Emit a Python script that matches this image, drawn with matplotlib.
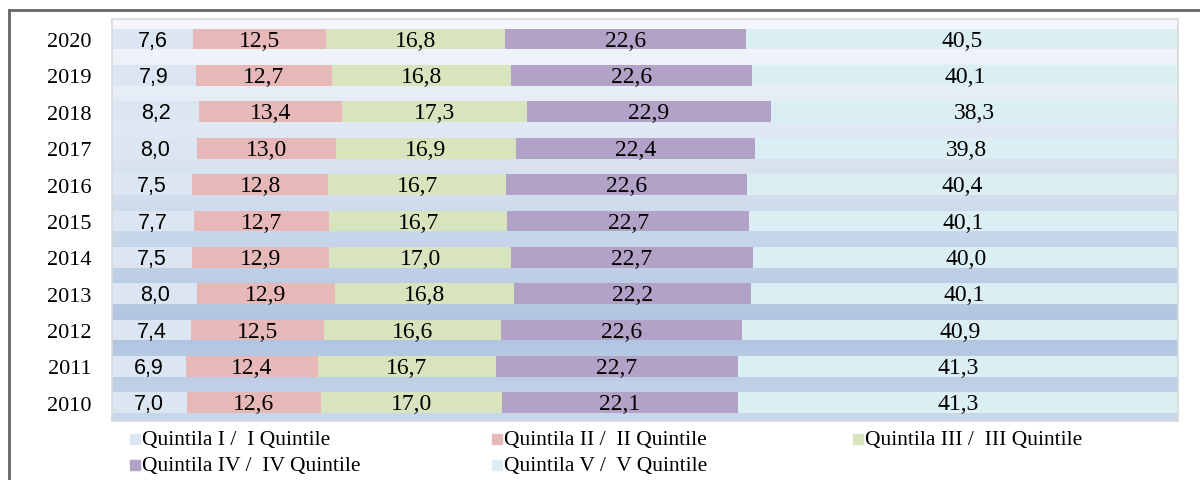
import matplotlib.pyplot as plt
import numpy as np
from matplotlib.colors import LinearSegmentedColormap
from matplotlib.patches import Rectangle
from matplotlib.lines import Line2D

years = ["2010", "2011", "2012", "2013", "2014", "2015", "2016", "2017", "2018", "2019", "2020"]
q1 = [7.0, 6.9, 7.4, 8.0, 7.5, 7.7, 7.5, 8.0, 8.2, 7.9, 7.6]
q2 = [12.6, 12.4, 12.5, 12.9, 12.9, 12.7, 12.8, 13.0, 13.4, 12.7, 12.5]
q3 = [17.0, 16.7, 16.6, 16.8, 17.0, 16.7, 16.7, 16.9, 17.3, 16.8, 16.8]
q4 = [22.1, 22.7, 22.6, 22.2, 22.7, 22.7, 22.6, 22.4, 22.9, 22.6, 22.6]
q5 = [41.3, 41.3, 40.9, 40.1, 40.0, 40.1, 40.4, 39.8, 38.3, 40.1, 40.5]
series_labels = ["Quintila I /  I Quintile", "Quintila II /  II Quintile",
                 "Quintila III /  III Quintile", "Quintila IV /  IV Quintile",
                 "Quintila V /  V Quintile"]
colors = ["#dce6f2", "#e6b9b8", "#d7e4bd", "#b3a2c7", "#dbeef4"]


def main():
    serif = ["Liberation Serif", "DejaVu Serif"]
    sans = ["Liberation Sans", "DejaVu Sans"]

    fig = plt.figure(figsize=(12, 4.81), dpi=100)
    ax = fig.add_axes([112 / 1200, 1 - 422 / 481, 1066 / 1200, 402 / 481])

    # outer frame
    fig.add_artist(Line2D([9 / 1200, 1.0], [1 - 11 / 481] * 2, color="#666666", lw=2,
                          transform=fig.transFigure))
    fig.add_artist(Line2D([9 / 1200] * 2, [0, 1 - 11 / 481], color="#666666", lw=2,
                          transform=fig.transFigure))

    # gradient background of the plot area
    cmap = LinearSegmentedColormap.from_list(
        "bg", [(0, "#f5f8fc"), (0.4, "#d6e1ef"), (0.78, "#afc4e0"), (1, "#cad8eb")])
    grad = np.linspace(0, 1, 256).reshape(-1, 1)
    ax.imshow(grad, aspect="auto", cmap=cmap, extent=(0, 100, -0.5, 10.55),
              origin="upper", zorder=0)

    y = np.arange(len(years))
    data = [q1, q2, q3, q4, q5]
    left = np.zeros(len(years))
    for k, vals in enumerate(data):
        vals = np.array(vals)
        ax.barh(y, vals, left=left, height=0.57, color=colors[k], zorder=2)
        for yi, (l, v) in enumerate(zip(left, vals)):
            txt = f"{v:.1f}".replace(".", ",")
            if k == 0:
                ax.text(l + v / 2, yi - 0.03, txt, ha="center", va="center",
                        fontsize=15.5, family=sans, zorder=3)
            else:
                ax.text(l + v / 2, yi - 0.03, txt, ha="center", va="center",
                        fontsize=17, family=serif, zorder=3)
        left += vals

    ax.set_xlim(0, 100)
    ax.set_ylim(-0.5, 10.55)
    ax.set_xticks([])
    ax.set_yticks(y)
    ax.set_yticklabels(years, family=serif, fontsize=16)
    ax.tick_params(axis="y", length=0, pad=15)
    for s in ax.spines.values():
        s.set_color("#d9d9d9")
        s.set_linewidth(1.2)

    # legend, 3 columns, row-major
    col_x = [130, 492, 853]
    row_y = [440, 466]
    for k, lab in enumerate(series_labels):
        cx = col_x[k % 3]
        cy = row_y[k // 3]
        fig.add_artist(Rectangle((cx / 1200, 1 - (cy + 5) / 481), 10 / 1200, 10 / 481,
                                 color=colors[k], transform=fig.transFigure))
        fig.text((cx + 12) / 1200, 1 - cy / 481, lab, ha="left", va="center",
                 fontsize=15.5, family=serif)

    plt.savefig("out.png", dpi=100)
    plt.close()


if __name__ == "__main__":
    main()
